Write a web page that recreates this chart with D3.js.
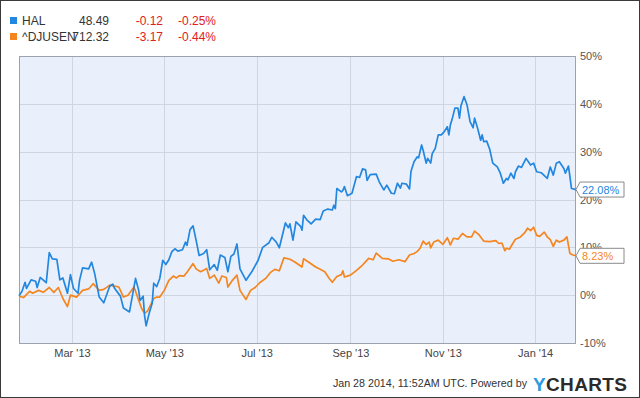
<!DOCTYPE html>
<html>
<head>
<meta charset="utf-8">
<script src="https://cdn.jsdelivr.net/npm/d3@7"></script>
<style>
  body { margin: 0; background: #fff; }
  svg { display: block; font-family: "Liberation Sans", Arial, sans-serif; }
</style>
</head>
<body>
<div id="chart"></div>
<script>
// days are counted from startDate
const startDate = new Date(2013, 0, 25),
      endDate = new Date(2014, 0, 28)

const halDays = [0,2,4,5,8,11,12,14,18,20,22,25,27,29,32,34,36,39,40,42,46,48,50,53,56,60,62,63,67,69,73,77,79,80,82,83,84,86,88,89,91,93,95,97,99,101,103,105,108,110,111,113,115,117,119,122,124,126,129,131,133,136,138,140,142,144,146,150,154,158,161,165,167,170,172,176,178,179,181,183,186,187,188,190,193,196,199,201,204,207,208,209,210,213,214,215,217,220,223,225,227,229,230,232,236,238,241,243,246,248,250,252,253,256,258,259,261,263,264,266,267,269,270,272,273,275,277,279,281,283,284,285,286,288,290,291,292,294,296,298,300,301,303,305,306,307,309,311,313,316,318,320,322,323,325,327,328,330,332,335,338,340,342,345,349,351,353,355,357,360,361,363,364,365,368]
const halPct = [-0.1,0.8,2.7,1.4,3.2,2.9,1.6,3.7,2.6,8.9,7.6,7.5,3.2,3.6,0.4,4.3,1.4,0.4,3.1,5.7,5.5,6.9,4.5,-0.4,-1.6,1.9,2.3,1.5,-0.2,-2.7,-3.5,3.5,1.1,-1.1,-0.2,-4.4,-6.4,-3.8,-1.7,2.5,1.8,3.5,7.3,6.4,7.4,9.1,9.7,9.2,9.5,11.1,10.4,13.7,14.5,11.5,8.3,8.7,9.5,5.3,6.4,5.2,8.4,7.9,4.9,8.1,8.6,10.7,5.5,3.1,5.0,7.3,10.0,10.9,12.1,11.1,9.9,15.1,14.1,14.9,11.5,15.3,14.4,13.6,16.7,15.8,14.9,15.9,15.8,17.6,18.0,17.8,18.8,18.1,22.3,21.6,21.9,22.7,20.8,21.3,24.8,24.6,26.4,26.2,24.0,25.2,25.3,23.7,22.0,23.0,21.3,21.2,23.4,22.4,23.4,23.2,22.2,25.9,27.9,28.9,28.7,31.4,30.3,27.6,28.6,27.6,29.6,30.7,33.5,33.5,34.2,35.2,33.5,35.6,36.6,39.1,39.1,37.0,39.6,41.5,39.8,36.3,35.0,37.0,34.9,32.4,33.5,32.1,32.2,30.5,27.6,26.8,25.5,23.4,24.4,24.1,25.5,24.4,25.8,27.0,26.7,28.6,27.2,27.6,25.8,25.6,24.4,26.8,25.1,27.6,27.9,26.5,25.5,27.0,24.8,22.3,22.08]

const djDays = [0,3,7,9,13,16,20,23,26,29,32,34,38,42,46,49,53,56,60,66,69,72,76,79,81,83,85,89,91,93,96,99,102,104,106,109,111,115,117,120,122,124,126,129,132,134,137,138,141,144,146,150,153,156,159,163,166,169,172,175,179,182,187,188,191,196,199,202,205,207,210,213,214,215,219,223,227,231,234,236,240,244,247,251,255,258,261,263,265,267,269,271,272,274,277,280,283,285,287,290,293,296,299,301,304,307,311,315,317,319,321,322,324,326,328,331,334,336,338,340,342,344,347,349,351,353,355,357,360,362,364,366,368]
const djPct = [-0.2,-0.5,0.8,0.4,1.0,0.6,1.6,0.6,1.6,-0.7,-2.4,0.0,-0.4,1.0,1.3,2.4,1.0,1.2,2.1,1.7,-0.4,0.0,1.7,-1.0,-2.8,-3.8,-3.3,-0.7,-0.4,-0.4,1.0,3.1,4.0,3.6,4.1,4.0,4.8,6.6,5.5,4.9,5.2,5.6,3.5,4.2,2.5,4.0,3.7,1.7,3.1,4.2,1.0,-0.9,1.0,1.6,2.6,3.5,4.7,5.4,5.1,7.8,7.5,7.0,5.9,7.6,7.0,5.9,5.4,4.9,3.5,2.7,3.9,4.3,5.1,3.8,4.2,5.2,6.3,7.7,7.4,8.8,7.7,7.6,7.1,7.4,7.0,8.4,8.7,9.1,9.8,11.3,10.6,11.1,9.9,11.1,11.5,10.6,12.0,10.5,11.9,11.7,12.9,12.2,12.2,13.4,12.6,11.3,11.2,11.4,10.8,10.9,9.3,9.8,9.6,10.7,11.7,12.1,13.0,14.0,13.5,14.2,12.5,12.3,13.2,12.2,11.6,10.2,11.5,11.1,11.5,12.2,8.7,8.4,8.23]

const yTicks = [-10, 0, 10, 20, 30, 40, 50]

const legendNames = ['HAL', '^DJUSEN'],
      legendPrices = ['48.49', '712.32'],
      legendChanges = ['-0.12', '-3.17'],
      legendPctChanges = ['-0.25%', '-0.44%'],
      lastLabels = ['22.08%', '8.23%']

const colors = ['#2387df', '#f5861f']

const width = 640, height = 398,
      plotLeft = 19, plotRight = 576, plotTop = 56, plotBottom = 343

const svg = d3.select('#chart')
              .append('svg')
              .attr('width', width)
              .attr('height', height)

svg.append('rect')
   .attr('x', 0.5).attr('y', 0.5)
   .attr('width', width - 1).attr('height', height - 1)
   .attr('fill', '#fff')
   .attr('stroke', '#3a3a3a')

const xScale = d3.scaleTime()
                 .domain([startDate, endDate])
                 .range([plotLeft, plotRight]),
      yScale = d3.scaleLinear()
                 .domain([-10, 50])
                 .range([plotBottom, plotTop])

svg.append('rect')
   .attr('x', plotLeft).attr('y', plotTop)
   .attr('width', plotRight - plotLeft).attr('height', plotBottom - plotTop)
   .attr('fill', '#eaf0fb')

const monthTicks = xScale.ticks(d3.timeMonth.every(2))

svg.append('g')
   .selectAll('line')
   .data(yTicks.slice(1, -1))
   .enter()
   .append('line')
   .attr('x1', plotLeft).attr('x2', plotRight)
   .attr('y1', d => Math.round(yScale(d)) + 0.5)
   .attr('y2', d => Math.round(yScale(d)) + 0.5)
   .attr('stroke', '#d0d6e0')

svg.append('g')
   .selectAll('line')
   .data(monthTicks)
   .enter()
   .append('line')
   .attr('x1', d => Math.round(xScale(d)) + 0.5)
   .attr('x2', d => Math.round(xScale(d)) + 0.5)
   .attr('y1', plotTop).attr('y2', plotBottom)
   .attr('stroke', '#d0d6e0')

svg.append('rect')
   .attr('x', plotLeft + 0.5).attr('y', plotTop + 0.5)
   .attr('width', plotRight - plotLeft - 1).attr('height', plotBottom - plotTop)
   .attr('fill', 'none')
   .attr('stroke', '#9aa3b0')

const xAxis = d3.axisBottom(xScale)
                .tickValues(monthTicks)
                .tickFormat(d3.timeFormat("%b '%y"))
                .tickSize(0)
                .tickPadding(6),
      yAxis = d3.axisRight(yScale)
                .tickValues(yTicks)
                .tickFormat(d => d + '%')
                .tickSize(0)
                .tickPadding(4)

const gx = svg.append('g')
              .attr('transform', 'translate(0,' + plotBottom + ')')
              .call(xAxis)
gx.select('.domain').remove()
gx.attr('font-family', null)
gx.selectAll('text').attr('font-size', 11).attr('fill', '#444')

const gy = svg.append('g')
              .attr('transform', 'translate(' + plotRight + ',0)')
              .call(yAxis)
gy.select('.domain').remove()
gy.attr('font-family', null)
gy.selectAll('text').attr('font-size', 11).attr('fill', '#555')

const series = [
  halDays.map((d, i) => [d3.timeDay.offset(startDate, d), halPct[i]]),
  djDays.map((d, i) => [d3.timeDay.offset(startDate, d), djPct[i]])
]

const line = d3.line()
               .x(d => xScale(d[0]))
               .y(d => yScale(d[1]))

// orange first so blue sits on top
svg.selectAll('path.series')
   .data([series[1], series[0]])
   .enter()
   .append('path')
   .attr('class', 'series')
   .attr('d', line)
   .attr('fill', 'none')
   .attr('stroke', (d, i) => colors[1 - i])
   .attr('stroke-width', 1.7)
   .attr('stroke-linejoin', 'round')

// last value flags
series.forEach((s, i) => {
  const last = s[s.length - 1],
        y = yScale(last[1]),
        x = plotRight
  const g = svg.append('g')
  g.append('path')
   .attr('d', 'M' + x + ',' + y + 'L' + (x + 4) + ',' + (y - 7.5) + 'H' + (x + 48) +
              'V' + (y + 7.5) + 'H' + (x + 4) + 'Z')
   .attr('fill', '#fff')
   .attr('stroke', '#8a8a8a')
  g.append('text')
   .attr('x', x + 6).attr('y', y + 4)
   .attr('font-size', 11)
   .attr('fill', colors[i])
   .text(lastLabels[i])
})

// legend
const legend = svg.append('g')
legendNames.forEach((name, i) => {
  const y = 24.5 + i * 16
  legend.append('rect')
        .attr('x', 10).attr('y', y - 7.5)
        .attr('width', 7).attr('height', 7)
        .attr('fill', colors[i])
  legend.append('text').attr('x', 22).attr('y', y)
        .attr('font-size', 12).attr('fill', '#333').text(name)
  legend.append('text').attr('x', 109).attr('y', y).attr('text-anchor', 'end')
        .attr('font-size', 12).attr('fill', '#333').text(legendPrices[i])
  legend.append('text').attr('x', 163).attr('y', y).attr('text-anchor', 'end')
        .attr('font-size', 12).attr('fill', '#e02020').text(legendChanges[i])
  legend.append('text').attr('x', 216).attr('y', y).attr('text-anchor', 'end')
        .attr('font-size', 12).attr('fill', '#e02020').text(legendPctChanges[i])
})

// footer
svg.append('text')
   .attr('x', 527).attr('y', 387)
   .attr('text-anchor', 'end')
   .attr('font-size', 10.7)
   .attr('fill', '#333')
   .text('Jan 28 2014, 11:52AM UTC. Powered by')

const logo = svg.append('text')
                .attr('x', 533).attr('y', 391)
                .attr('font-size', 19)
                .attr('font-weight', 'bold')
                .attr('textLength', 94)
                .attr('lengthAdjust', 'spacing')
logo.append('tspan').attr('fill', '#2a9be0').text('Y')
logo.append('tspan').attr('fill', '#2b2b2b').text('CHARTS')
</script>
</body>
</html>
